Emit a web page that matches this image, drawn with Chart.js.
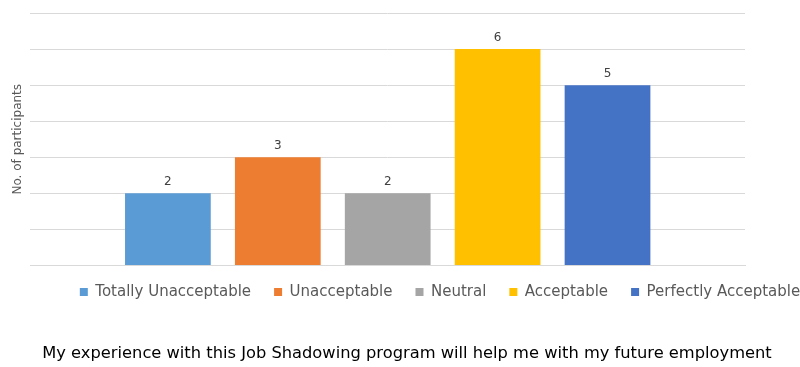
<!DOCTYPE html>
<html>
<head>
<meta charset="utf-8">
<title>Job Shadowing survey</title>
<script src="https://cdn.jsdelivr.net/npm/chart.js@4"></script>
<style>
  html, body { margin: 0; padding: 0; background: #fff; }
  #wrap { width: 800px; height: 367px; }
</style>
</head>
<body>
<div id="wrap"><canvas id="chart"></canvas></div>
<script>
const responses = ["Totally Unacceptable", "Unacceptable", "Neutral", "Acceptable", "Perfectly Acceptable"];
const counts = [2, 3, 2, 6, 5];
const colors = ["#5B9BD5", "#ED7D31", "#A5A5A5", "#FFC000", "#4472C4"];
const yTitle = "No. of participants";
const question = "My experience with this Job Shadowing program will help me with my future employment";

const FONT = "'DejaVu Sans', sans-serif";

// numbers written above each bar
const barValues = {
  id: "barValues",
  afterDatasetsDraw(chart) {
    const ctx = chart.ctx;
    ctx.save();
    ctx.font = "12px " + FONT;
    ctx.fillStyle = "#404040";
    ctx.textAlign = "center";
    ctx.textBaseline = "middle";
    chart.data.datasets.forEach((ds, i) => {
      chart.getDatasetMeta(i).data.forEach((bar, j) => {
        ctx.fillText(ds.data[j], bar.x, bar.y - 11);
      });
    });
    ctx.restore();
  }
};

// legend and question text sit right of centre, legend tucked up under the axis
const nudge = {
  id: "nudge",
  afterLayout(chart) {
    const lg = chart.legend;
    lg.left += 40; lg.right += 40;
    lg.top -= 12; lg.bottom -= 12;
    const t = chart.titleBlock;
    t.left += 7; t.right += 7;
  }
};

new Chart(document.getElementById("chart"), {
  type: "bar",
  data: {
    labels: [""],
    datasets: responses.map((r, i) => ({
      label: r,
      data: [counts[i]],
      backgroundColor: colors[i]
    }))
  },
  options: {
    responsive: true,
    maintainAspectRatio: false,
    animation: false,
    categoryPercentage: 0.769,
    barPercentage: 0.78,
    layout: { padding: { top: 13, right: 0, left: 0, bottom: 0 } },
    scales: {
      x: {
        ticks: { display: false },
        grid: { display: false },
        border: { color: "#d9d9d9" }
      },
      y: {
        min: 0,
        max: 7,
        ticks: { display: false, stepSize: 1 },
        grid: { color: "#d9d9d9", drawTicks: false },
        border: { display: false },
        title: {
          display: true,
          text: yTitle,
          color: "#595959",
          font: { family: FONT, size: 12 },
          padding: { top: 11, bottom: 5 }
        }
      },
      // empty strip keeping white space right of the plot
      gap: {
        position: "right",
        ticks: { display: false },
        grid: { display: false },
        border: { display: false },
        afterFit(s) { s.width = 55; }
      }
    },
    plugins: {
      legend: {
        position: "bottom",
        labels: {
          boxWidth: 8,
          boxHeight: 8,
          padding: 23,
          color: "#595959",
          font: { family: FONT, size: 15 }
        }
      },
      title: {
        display: true,
        position: "bottom",
        text: question,
        color: "#000",
        font: { family: FONT, size: 16.3, weight: "normal" },
        padding: { top: 23, bottom: 3 }
      },
      tooltip: { enabled: false }
    }
  },
  plugins: [barValues, nudge]
});
</script>
</body>
</html>
